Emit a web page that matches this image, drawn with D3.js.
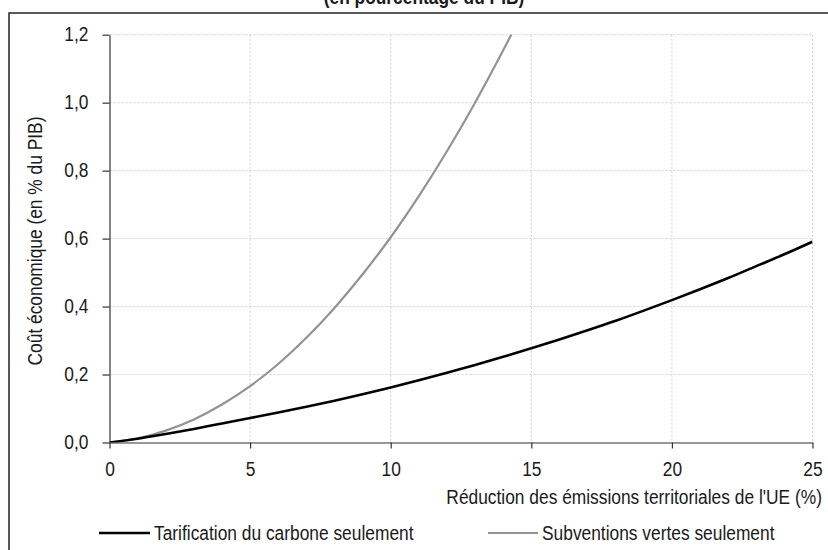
<!DOCTYPE html>
<html><head><meta charset="utf-8">
<script src="https://cdn.jsdelivr.net/npm/d3@7"></script>
<style>
html,body{margin:0;padding:0;background:#fff;}
svg text{font-family:"Liberation Sans",Arial,sans-serif;fill:#1a1a1a;}
</style></head>
<body><svg id="c" width="828" height="550"></svg>
<script>
const title = "(en pourcentage du PIB)";
const xLabel = "Réduction des émissions territoriales de l'UE (%)";
const yLabel = "Coût économique (en % du PIB)";
const seriesNames = ["Tarification du carbone seulement", "Subventions vertes seulement"];
const xTicks = [0, 5, 10, 15, 20, 25];
const yTicks = [0, 0.2, 0.4, 0.6, 0.8, 1.0, 1.2];

const carbonX = [0,1,2,3,4,5,6,7,8,9,10,11,12,13,14,15,16,17,18,19,20,21,22,23,24,25];
const carbonY = [0,0.011,0.025,0.040,0.056,0.072,0.088,0.105,0.123,0.142,0.162,0.183,0.205,0.228,0.252,0.277,0.303,0.330,0.358,0.388,0.419,0.451,0.484,0.519,0.554,0.591];
const greenX = [0,1,2,3,4,5,6,7,8,9,10,11,12,13,14,14.3];
const greenY = [0,0.012,0.035,0.068,0.112,0.166,0.231,0.308,0.396,0.495,0.604,0.725,0.857,1.000,1.154,1.202];

const FS = 19.5, SQ = 0.89;
const svg = d3.select("#c");
const x = d3.scaleLinear().domain([0,25]).range([109.5,812.5]);
const y = d3.scaleLinear().domain([0,1.2]).range([442.5,34.7]);

function condense(sel, f){
  sel.each(function(){ const w = this.getComputedTextLength(); d3.select(this).attr("textLength", w*(f||SQ)).attr("lengthAdjust","spacingAndGlyphs"); });
}

// frame
svg.append("path").attr("d","M9,550 V13 H828").attr("fill","none").attr("stroke","#222").attr("stroke-width",1.5);

// title (cut off at the top, as in the reference)
svg.append("text").attr("x",424).attr("y",4).attr("text-anchor","middle")
  .attr("font-weight","bold").attr("font-size",FS).text(title).call(condense);

// grid
const grid = svg.append("g").attr("stroke","#cfcfcf").attr("stroke-width",1).attr("stroke-dasharray","2,2");
xTicks.filter(d=>d>0).forEach(d=>grid.append("line").attr("x1",x(d)).attr("x2",x(d)).attr("y1",y(1.2)).attr("y2",y(0)));
yTicks.filter(d=>d>0).forEach(d=>grid.append("line").attr("x1",x(0)).attr("x2",x(25)).attr("y1",y(d)).attr("y2",y(d)));

// axes
const fmt = d3.format(".1f");
const xAxis = svg.append("g").attr("transform",`translate(0,${y(0)})`)
  .call(d3.axisBottom(x).tickValues(xTicks).tickSize(6).tickPadding(14).tickSizeOuter(0));
const yAxis = svg.append("g").attr("transform",`translate(${x(0)},0)`)
  .call(d3.axisLeft(y).tickValues(yTicks).tickSize(7).tickPadding(14).tickSizeOuter(0).tickFormat(d=>fmt(d).replace(".",",")));
[xAxis,yAxis].forEach(a=>{
  a.select(".domain").attr("stroke","#333").attr("stroke-width",1.2);
  a.selectAll(".tick line").attr("stroke","#333").attr("stroke-width",1.2);
  a.selectAll(".tick text").attr("font-size",FS).attr("fill","#1a1a1a")
   .style("font-family",'"Liberation Sans",Arial,sans-serif').call(condense);
});

// clip
svg.append("clipPath").attr("id","clip").append("rect")
  .attr("x",x(0)).attr("y",y(1.2)).attr("width",x(25)-x(0)).attr("height",y(0)-y(1.2));

const line = d3.line().x(d=>x(d[0])).y(d=>y(d[1])).curve(d3.curveMonotoneX);
const carbon = carbonX.map((v,i)=>[v,carbonY[i]]);
const green = greenX.map((v,i)=>[v,greenY[i]]);
svg.append("path").datum(green).attr("d",line).attr("fill","none").attr("stroke","#939393").attr("stroke-width",2.2).attr("clip-path","url(#clip)");
svg.append("path").datum(carbon).attr("d",line).attr("fill","none").attr("stroke","#000").attr("stroke-width",2.6).attr("clip-path","url(#clip)");

// axis labels
svg.append("text").attr("x",822).attr("y",504).attr("text-anchor","end").attr("font-size",FS).text(xLabel).call(condense);
svg.append("text").attr("transform","translate(42,241) rotate(-90)").attr("text-anchor","middle").attr("font-size",FS).text(yLabel).call(condense);

// legend
const leg = [{x0:99,x1:150,c:"#000",w:2.6},{x0:488,x1:538,c:"#939393",w:2.2}];
leg.forEach((l,i)=>{
  svg.append("line").attr("x1",l.x0).attr("x2",l.x1).attr("y1",533).attr("y2",533).attr("stroke",l.c).attr("stroke-width",l.w);
  svg.append("text").attr("x",l.x1+4).attr("y",539.5).attr("font-size",FS).text(seriesNames[i]).call(condense);
});
</script></body></html>
